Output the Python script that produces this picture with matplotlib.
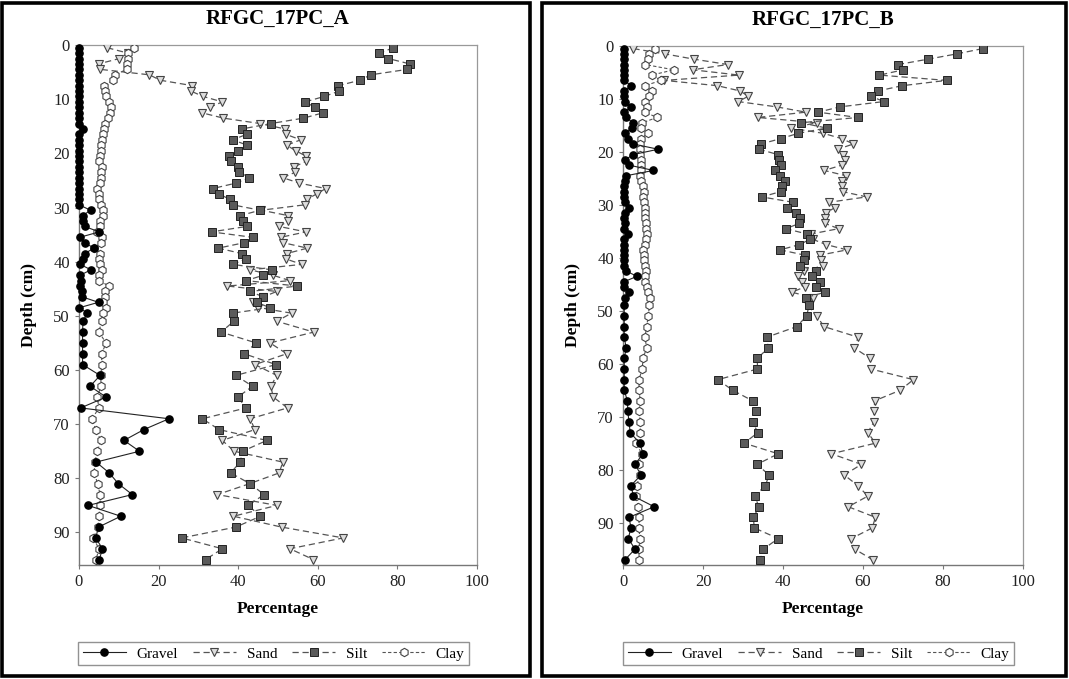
"""
Grain-size profiles (gravel / sand / silt / clay) for cores RFGC_17PC_A and RFGC_17PC_B.
"""

import matplotlib
matplotlib.use("Agg")
import matplotlib.pyplot as plt
from matplotlib.patches import Rectangle

plt.rcParams["font.family"] = ["Liberation Serif", "DejaVu Serif"]

# ---------------------------------------------------------------- core A
depth_a = [0.5, 1.5, 2.5, 3.5, 4.5, 5.5, 6.5, 7.5, 8.5, 9.5,
           10.5, 11.5, 12.5, 13.5, 14.5, 15.5, 16.5, 17.5, 18.5, 19.5,
           20.5, 21.5, 22.5, 23.5, 24.5, 25.5, 26.5, 27.5, 28.5, 29.5,
           30.5, 31.5, 32.5, 33.5, 34.5, 35.5, 36.5, 37.5, 38.5, 39.5,
           40.5, 41.5, 42.5, 43.5, 44.5, 45.5, 46.5, 47.5, 48.5, 49.5,
           51, 53, 55, 57, 59, 61, 63, 65, 67, 69, 71, 73, 75, 77, 79,
           81, 83, 85, 87, 89, 91, 93, 95]
gravel_a = [0, 0, 0, 0, 0, 0, 0, 0, 0, 0,
            0, 0, 0, 0, 0, 1.1, 0, 0, 0, 0,
            0, 0, 0, 0, 0, 0, 0, 0, 0, 0,
            2.9, 0.9, 1.1, 1.4, 5.1, 0.2, 1.4, 3.8, 1.4, 1.0,
            0.3, 3.0, 0.3, 0.5, 0.2, 0.7, 0.8, 4.9, 0.1, 2.1,
            1.0, 0.9, 0.9, 0.9, 0.9, 5.3, 2.8, 6.8, 0.4, 22.6, 16.3, 11.3, 15.2, 4.3, 7.6,
            9.9, 13.4, 2.3, 10.5, 4.9, 4.2, 5.9, 5.1]
sand_a = [7.1, 12.3, 10.1, 4.9, 5.4, 17.7, 20.4, 28.5, 28.1, 31.2,
          36.0, 32.9, 30.8, 36.3, 45.5, 51.8, 52.0, 55.7, 52.2, 54.4,
          57.0, 57.0, 54.0, 54.3, 51.2, 55.4, 62.0, 59.7, 57.2, 56.8,
          45.8, 52.6, 52.6, 50.3, 57.0, 50.7, 51.3, 57.4, 52.2, 52.0,
          56.0, 43.0, 48.7, 53.0, 37.3, 49.7, 46.3, 43.7, 45.1, 53.4,
          49.7, 59.0, 48.0, 52.2, 44.2, 49.7, 48.2, 48.8, 52.4, 43.0, 44.2, 36.0, 39.0, 51.2, 50.3,
          42.8, 34.8, 49.7, 38.8, 50.9, 66.4, 53.0, 58.9]
silt_a = [79.0, 75.5, 77.7, 83.2, 82.5, 73.3, 70.6, 65.2, 65.4, 61.6,
          56.8, 59.3, 61.4, 56.4, 48.2, 40.9, 42.1, 38.6, 42.3, 40.0,
          37.8, 38.2, 40.0, 40.3, 42.8, 39.4, 33.6, 35.2, 37.9, 38.6,
          45.5, 40.5, 41.1, 42.1, 33.3, 43.6, 41.5, 35.0, 40.9, 42.0,
          38.6, 48.4, 46.3, 42.0, 54.9, 43.0, 46.3, 44.6, 48.0, 38.6,
          38.9, 35.7, 44.5, 41.5, 49.5, 39.4, 43.6, 39.9, 42.0, 31.0, 35.2, 47.2, 41.1, 40.5, 38.1,
          43.0, 46.5, 42.5, 45.6, 39.4, 25.8, 36.0, 31.8]
clay_a = [13.8, 12.2, 12.2, 12.0, 12.0, 9.0, 8.6, 6.3, 6.5, 6.9,
          7.5, 8.0, 7.8, 7.3, 6.5, 6.2, 6.0, 5.8, 5.5, 5.6,
          5.2, 5.0, 5.8, 5.6, 5.5, 5.3, 4.5, 5.0, 5.0, 5.5,
          6.0, 6.0, 5.3, 5.3, 4.4, 5.7, 5.5, 3.8, 5.3, 5.0,
          5.3, 5.7, 5.0, 5.0, 7.6, 6.5, 6.5, 6.0, 6.8, 6.0,
          5.7, 5.0, 6.8, 5.7, 5.7, 5.5, 5.5, 4.6, 5.0, 3.3, 4.2, 5.5, 4.6, 4.0, 3.8,
          4.7, 5.3, 5.3, 5.0, 4.8, 3.6, 5.0, 4.3]

# ---------------------------------------------------------------- core B
depth_b = [0.5, 1.5, 2.5, 3.5, 4.5, 5.5, 6.5, 7.5, 8.5, 9.5,
           10.5, 11.5, 12.5, 13.5, 14.5, 15.5, 16.5, 17.5, 18.5, 19.5,
           20.5, 21.5, 22.5, 23.5, 24.5, 25.5, 26.5, 27.5, 28.5, 29.5,
           30.5, 31.5, 32.5, 33.5, 34.5, 35.5, 36.5, 37.5, 38.5, 39.5,
           40.5, 41.5, 42.5, 43.5, 44.5, 45.5, 46.5, 47.5,
           49, 51, 53, 55, 57, 59, 61, 63, 65, 67, 69, 71, 73, 75, 77, 79,
           81, 83, 85, 87, 89, 91, 93, 95, 97]
gravel_b = [0.3, 0.3, 0.3, 0.3, 0.3, 0.3, 0.3, 2.0, 0.3, 0.3,
            0.5, 1.9, 0.3, 0.8, 2.5, 2.2, 0.5, 1.2, 2.5, 8.8,
            2.6, 0.5, 1.5, 7.6, 0.8, 0.5, 0.3, 0.3, 0.2, 0.5,
            1.5, 0.5, 0.3, 0.5, 0.3, 1.2, 0.3, 0.2, 0.3, 0.2,
            0.2, 0.3, 0.8, 3.5, 0.3, 0.3, 1.5, 0.5,
            0.3, 0.3, 0.3, 0.3, 0.8, 0.3, 0.3, 0.3, 0.3, 1.1, 1.2, 1.5, 1.8, 4.2, 5.0, 3.0,
            4.5, 2.0, 2.6, 7.8, 1.5, 2.0, 1.3, 3.0, 0.5]
sand_b = [2.6, 10.5, 17.8, 26.2, 17.4, 29.0, 10.3, 23.6, 29.3, 31.3,
          28.8, 38.4, 45.7, 33.7, 48.4, 42.0, 50.1, 54.7, 57.6, 53.7,
          55.1, 55.5, 54.7, 50.3, 55.7, 54.7, 54.7, 54.9, 60.9, 51.6,
          53.0, 50.8, 50.5, 50.5, 53.9, 47.0, 47.4, 50.8, 56.0, 49.2,
          49.4, 49.9, 45.3, 43.7, 44.8, 45.4, 42.2, 47.5,
          46.3, 48.4, 50.3, 58.8, 57.8, 61.8, 62.0, 72.6, 69.3, 62.9, 62.8, 62.7, 61.2, 63.1, 52.1, 59.6,
          55.3, 58.7, 61.2, 56.3, 63.1, 62.3, 57.1, 57.9, 62.4]
silt_b = [89.9, 83.4, 76.2, 68.8, 70.1, 64.1, 80.9, 69.8, 63.7, 62.0,
          65.2, 54.2, 48.8, 58.7, 44.5, 50.9, 43.8, 39.4, 34.5, 34.0,
          38.7, 39.0, 39.4, 38.0, 39.3, 40.5, 39.7, 39.4, 34.7, 42.4,
          41.0, 43.3, 44.3, 44.1, 40.7, 46.0, 46.8, 44.1, 39.3, 45.5,
          45.2, 44.3, 48.2, 47.2, 49.3, 48.3, 50.5, 45.7,
          46.5, 45.9, 43.4, 35.9, 36.3, 33.6, 33.6, 23.7, 27.4, 32.4, 33.2, 32.4, 33.7, 30.3, 38.8, 33.5,
          36.5, 35.6, 32.9, 34.0, 32.6, 32.8, 38.8, 35.1, 34.3]
clay_b = [8.0, 6.5, 6.3, 5.5, 12.7, 7.2, 9.5, 5.5, 7.3, 6.4,
          5.5, 6.0, 5.5, 8.5, 4.8, 4.6, 6.3, 4.5, 4.3, 4.3,
          4.3, 4.5, 4.6, 4.5, 4.3, 4.6, 5.0, 5.2, 5.0, 5.2,
          5.4, 5.4, 5.6, 5.7, 5.8, 5.9, 5.8, 5.5, 5.0, 5.3,
          5.2, 5.5, 5.7, 5.6, 5.6, 6.0, 6.3, 6.7,
          6.6, 6.3, 5.9, 5.5, 5.9, 5.0, 4.8, 4.0, 4.0, 4.3, 4.0, 4.3, 4.3, 3.3, 4.7, 4.0,
          4.3, 3.4, 3.3, 3.8, 4.0, 4.0, 4.2, 4.0, 4.0]

x_ticks = [0, 20, 40, 60, 80, 100]
y_ticks = [0, 10, 20, 30, 40, 50, 60, 70, 80, 90]

LINE = "#555555"


def draw_core(fig, rect, title, depth, gravel, sand, silt, clay, max_depth, frame_x):
    """Draw one depth profile panel with its legend and outer frame."""
    ax = fig.add_axes(rect)

    ax.plot(sand, depth, ls=(0, (5, 3)), color=LINE, lw=0.9,
            marker="v", ms=6, mfc="#dddddd", mec="#444444", mew=0.8, label="Sand", zorder=3)
    ax.plot(silt, depth, ls=(0, (5, 3)), color=LINE, lw=0.9,
            marker="s", ms=5.2, mfc="#5a5a5a", mec="#222222", mew=0.7, label="Silt", zorder=4)
    ax.plot(clay, depth, ls=(0, (3, 2)), color=LINE, lw=0.8,
            marker="h", ms=6, mfc="white", mec="#444444", mew=0.8, label="Clay", zorder=3)
    ax.plot(gravel, depth, ls="-", color="#222222", lw=0.8,
            marker="o", ms=5.2, mfc="black", mec="black", label="Gravel", zorder=5,
            clip_on=False)

    ax.set_xlim(0, 100)
    ax.set_ylim(max_depth, 0)
    ax.set_xticks(x_ticks)
    ax.set_yticks(y_ticks)
    ax.tick_params(labelsize=12, length=3, width=0.8, color="#777777", labelcolor="#222222")
    for side in ["top", "right"]:
        ax.spines[side].set_color("#999999")
        ax.spines[side].set_linewidth(0.9)
    for side in ["left", "bottom"]:
        ax.spines[side].set_color("#777777")
        ax.spines[side].set_linewidth(1.0)

    ax.set_title(title, fontsize=15, fontweight="bold", pad=15)
    ax.set_xlabel("Percentage", fontsize=12.5, fontweight="bold", labelpad=8)
    ax.set_ylabel("Depth (cm)", fontsize=12.5, fontweight="bold", labelpad=12)

    handles, labels = ax.get_legend_handles_labels()
    order = [3, 0, 1, 2]
    leg = fig.legend([handles[i] for i in order], [labels[i] for i in order],
                     loc="center", bbox_to_anchor=(rect[0] + rect[2] / 2 - 0.004, 0.037),
                     ncol=4, fontsize=11, frameon=True, fancybox=False,
                     edgecolor="#777777", handlelength=2.8, columnspacing=1.0,
                     handletextpad=0.7, borderpad=0.3)
    leg.get_frame().set_linewidth(1.0)

    fig.patches.append(Rectangle((frame_x[0], 0.004), frame_x[1] - frame_x[0], 0.992,
                                 transform=fig.transFigure, fill=False,
                                 edgecolor="black", linewidth=2.6))
    return ax


fig = plt.figure(figsize=(10.69, 6.79), dpi=100)

draw_core(fig, [0.0739, 0.1679, 0.3723, 0.7658], "RFGC_17PC_A",
          depth_a, gravel_a, sand_a, silt_a, clay_a, 96, (0.002, 0.496))
draw_core(fig, [0.5828, 0.1679, 0.3742, 0.7644], "RFGC_17PC_B",
          depth_b, gravel_b, sand_b, silt_b, clay_b, 98, (0.507, 0.997))

fig.savefig("out.png", dpi=100)
